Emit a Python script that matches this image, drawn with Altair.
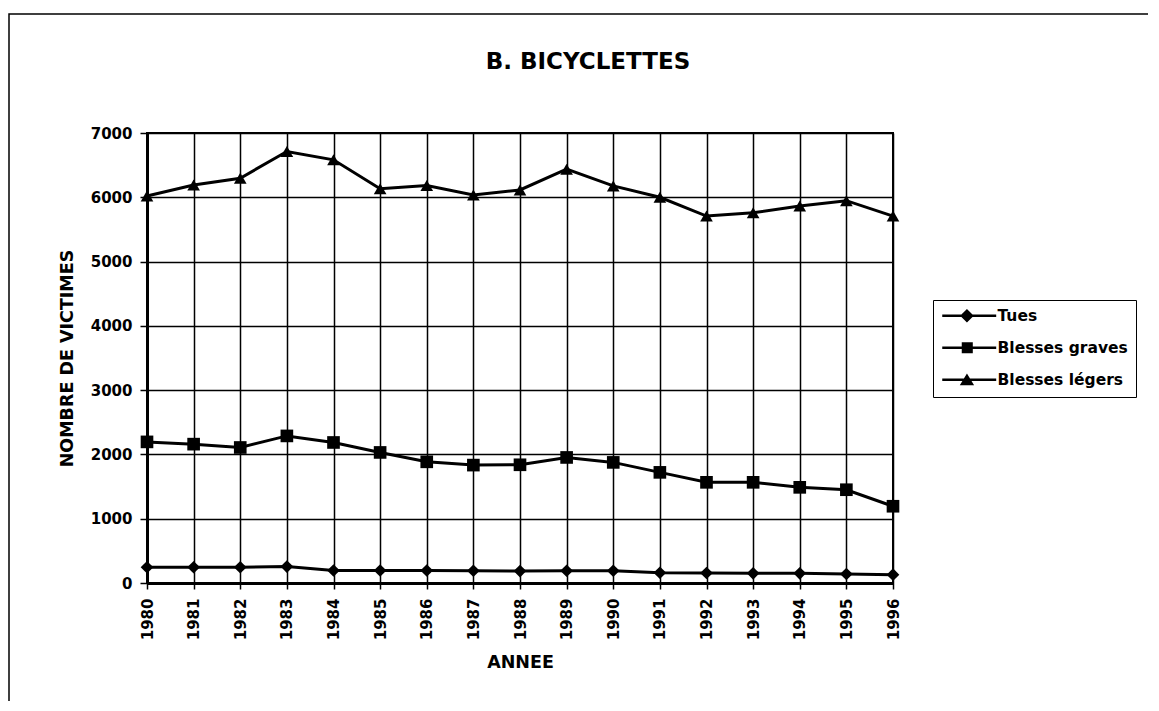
import altair as alt
import pandas as pd

years = list(range(1980, 1997))
tues = [245, 245, 245, 255, 195, 195, 195, 190, 185, 190, 190, 160, 155, 150, 150, 140, 130]
graves = [2195, 2160, 2108, 2288, 2186, 2031, 1885, 1834, 1839, 1953, 1876, 1721, 1566, 1566, 1488, 1451, 1194]
legers = [6020, 6192, 6297, 6713, 6583, 6134, 6182, 6036, 6114, 6437, 6177, 6000, 5708, 5760, 5864, 5947, 5708]
series = ["Tues", "Blesses graves", "Blesses légers"]
markers = ["diamond", "square", "triangle-up"]
y_ticks = [0, 1000, 2000, 3000, 4000, 5000, 6000, 7000]
title_text = "B. BICYCLETTES"

rows = []
for name, vals in zip(series, [tues, graves, legers]):
    for yr, v in zip(years, vals):
        rows.append({"annee": yr, "victimes": v, "serie": name})
df = pd.DataFrame(rows)

FONT = "DejaVu Sans"
W, H = 746, 450

x_enc = alt.X(
    "annee:Q",
    scale=alt.Scale(domain=[1980, 1996], nice=False, zero=False),
    axis=alt.Axis(values=years, format="d", labelAngle=270, title="ANNEE",
                  tickSize=6, labelPadding=9, titlePadding=14),
)
y_enc = alt.Y(
    "victimes:Q",
    scale=alt.Scale(domain=[0, 7000], nice=False),
    axis=alt.Axis(values=y_ticks, format="d", title="NOMBRE DE VICTIMES",
                  tickSize=7, labelPadding=8, titlePadding=14),
)

line = alt.Chart(df).mark_line(color="black", strokeWidth=3).encode(
    x=x_enc, y=y_enc, detail="serie:N"
)

point_layers = []
for name, shp in zip(series, markers):
    point_layers.append(
        alt.Chart(df).transform_filter(alt.datum.serie == name)
        .mark_point(filled=True, color="black", opacity=1, size=160, shape=shp)
        .encode(x=x_enc, y=y_enc)
    )

# legend glyphs: a filled bar (the line) plus the marker, all filled
BAR = "M-1,-0.2H7.3V0.2H-1Z"
leg_paths = [
    BAR + "M2.8,-1.05L3.85,0L2.8,1.05L1.75,0Z",
    BAR + "M2.0,-0.85H3.7V0.85H2.0Z",
    BAR + "M2.8,-0.95L3.9,0.85H1.7Z",
]

leg = alt.Chart(df).mark_point(filled=True, color="black", opacity=0, size=169).encode(
    x=x_enc, y=y_enc,
    shape=alt.Shape("serie:N",
                    scale=alt.Scale(domain=series, range=leg_paths),
                    legend=alt.Legend(
                        orient="none", legendX=786, legendY=167, title=None,
                        strokeColor="black", fillColor="white", padding=8,
                        labelFont=FONT, labelFontSize=15.5, labelFontWeight="bold",
                        labelColor="black", symbolSize=169,
                        symbolFillColor="black", symbolStrokeColor="black",
                        symbolOpacity=1, labelOffset=41, rowPadding=13,
                    )),
)

frame = alt.Chart(pd.DataFrame({"k": [0]})).mark_rect(
    fillOpacity=0, stroke="black", strokeWidth=1.5
).encode(
    x=alt.value(-138), x2=alt.value(1200), y=alt.value(-119), y2=alt.value(800)
)

title = alt.Chart(pd.DataFrame({"t": [title_text]})).mark_text(
    font=FONT, fontSize=23, fontWeight="bold", color="black",
    align="center", baseline="middle"
).encode(text="t:N", x=alt.value(441), y=alt.value(-71))

chart = alt.layer(frame, title, line, *point_layers, leg).properties(
    width=W, height=H,
    autosize=alt.AutoSizeParams(type="none"),
    padding={"left": 139, "top": 125, "right": 255, "bottom": 118},
).configure_view(
    stroke="black", strokeWidth=2
).configure_axis(
    grid=True, gridColor="black", gridWidth=1.5, gridOpacity=1,
    domainColor="black", domainWidth=3, tickColor="black", tickWidth=1.5,
    labelFont=FONT, labelFontSize=15, labelFontWeight="bold", labelColor="black",
    titleFont=FONT, titleFontSize=17.5, titleFontWeight="bold", titleColor="black",
)

chart.save("out.html", embed_options={"renderer": "svg", "actions": False})
